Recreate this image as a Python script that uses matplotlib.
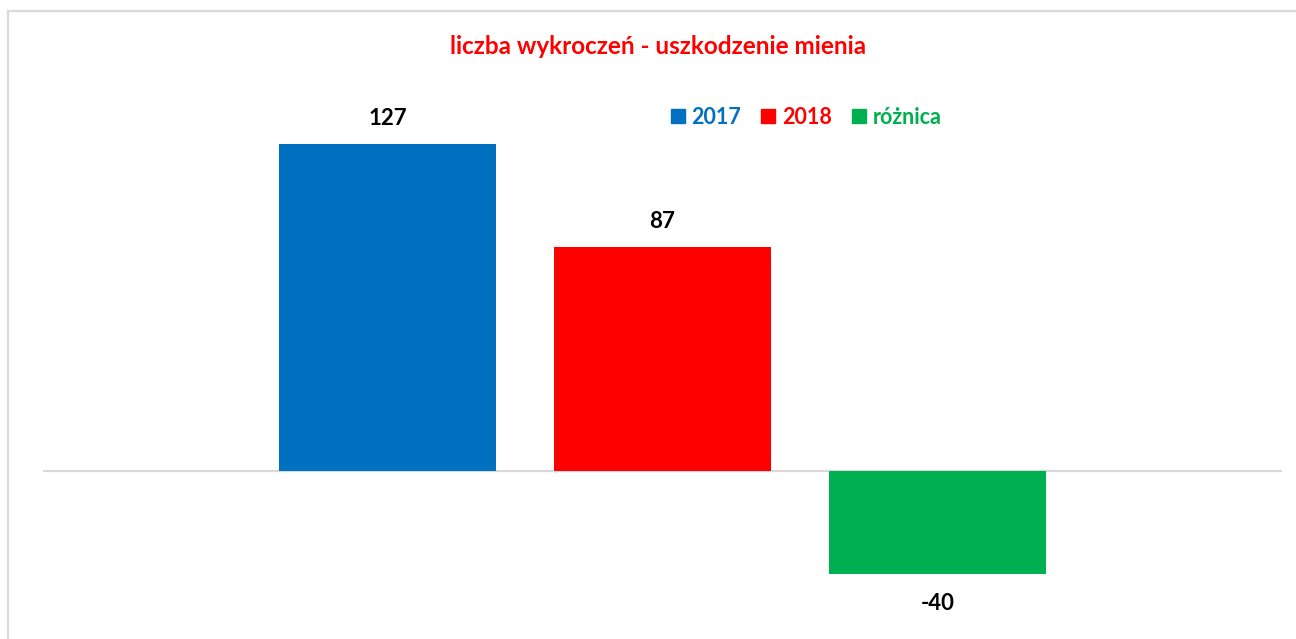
import matplotlib.pyplot as plt
from matplotlib.patches import Rectangle

series = ['2017', '2018', 'różnica']
values = [127, 87, -40]
colors = ['#0070C0', '#FF0000', '#00B050']
title = 'liczba wykroczeń - uszkodzenie mienia'

W, H = 1296, 639
dpi = 100

plt.rcParams['font.family'] = ['Lato', 'DejaVu Sans']

fig = plt.figure(figsize=(W / dpi, H / dpi), dpi=dpi)

# light grey chart frame (cut off on the right and bottom)
fig.patches.append(Rectangle((8 / W, -0.1), 1.2, 1 - 11 / H + 0.1,
                             transform=fig.transFigure, fill=False,
                             edgecolor='#D9D9D9', linewidth=1.6))

# plot area: zero line at y=471 px, 2.575 px per unit
ymin, ymax = -60, 140
px_per_unit = 2.575
top = 471 - ymax * px_per_unit
bottom = 471 - ymin * px_per_unit
ax = fig.add_axes([43 / W, 1 - bottom / H, (1282 - 43) / W, (bottom - top) / H])
ax.set_ylim(ymin, ymax)
half = (1282 - 43) / 2 / 275
ax.set_xlim(1 - half, 1 + half)
ax.axis('off')

xs = range(len(values))
bars = ax.bar(xs, values, width=217 / 275, color=colors)
ax.axhline(0, color='#D9D9D9', linewidth=1.6, zorder=0)

for x, v in zip(xs, values):
    off = 11 if v >= 0 else -14
    ax.annotate(str(v), (x, v), xytext=(0, off), textcoords='offset points',
                ha='center', va='bottom' if v >= 0 else 'top',
                fontsize=16, fontweight='bold', color='black')

handles = [Rectangle((0, 0), 1, 1, color=c) for c in colors]
leg = fig.legend(handles, series, loc='center', bbox_to_anchor=(806 / W, 1 - 117 / H),
                 ncol=3, frameon=False, handlelength=0.65, handleheight=0.65,
                 handletextpad=0.3, columnspacing=0.95,
                 prop={'weight': 'bold', 'size': 15.5})
for t, c in zip(leg.get_texts(), colors):
    t.set_color(c)

fig.text(658 / W, 1 - 47 / H, title, ha='center', va='center',
         fontsize=17.5, fontweight='bold', color='#FF0000')

fig.savefig('out.png', dpi=dpi)
